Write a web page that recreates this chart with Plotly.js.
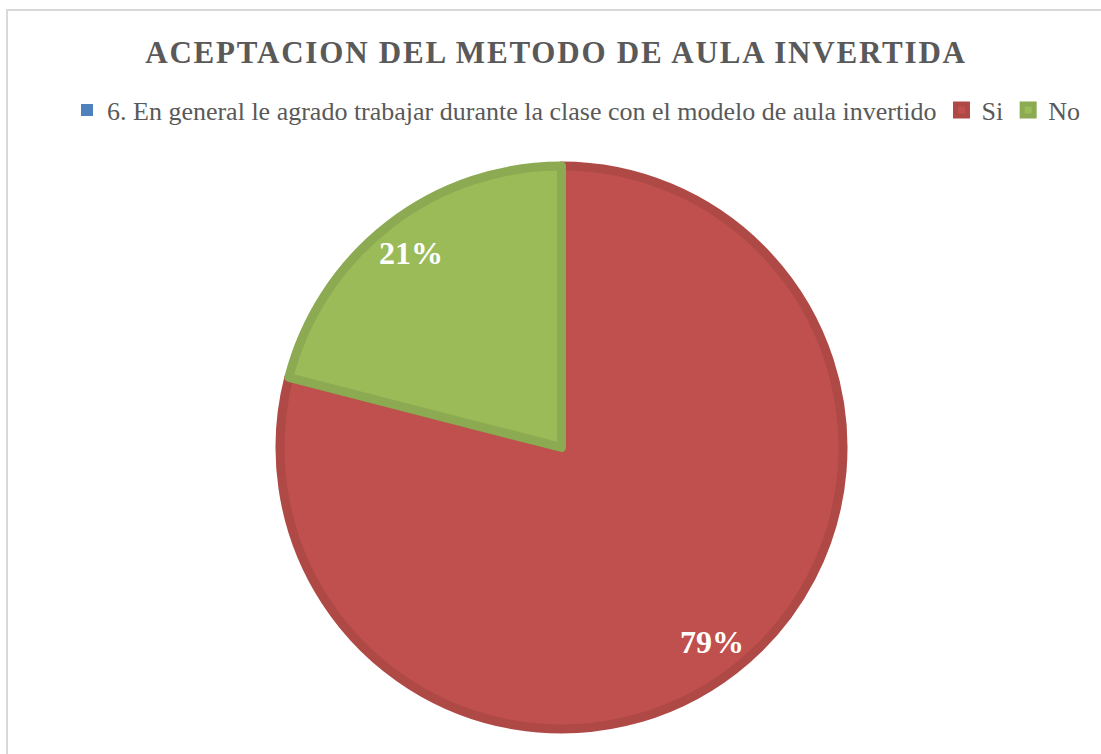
<!DOCTYPE html>
<html>
<head>
<meta charset="utf-8">
<script src="https://cdn.plot.ly/plotly-3.0.1.min.js"></script>
<style>
  html, body { margin: 0; padding: 0; background: #fff; }
  #chart { width: 1101px; height: 754px; }
  .gtitle { letter-spacing: 1.8px; }
</style>
</head>
<body>
<div id="chart"></div>
<script>
// ---- data ----
const categories = [
  "6. En general le agrado trabajar durante la clase con el modelo de aula invertido",
  "Si",
  "No"
];
const values = [0, 79, 21];
const fillColors = ["#4F81BD", "#C0504D", "#9BBB59"];
const borderColors = ["#4F81BD", "#AF4946", "#8CAA51"];
const titleText = "ACEPTACION DEL METODO DE AULA INVERTIDA";

// ---- geometry (page pixels) ----
const W = 1101, H = 754;
const cx = 561.5, cy = 447.5;    // pie centre
const outerR = 286;              // outer edge incl. border
const borderW = 9;
const r = outerR - borderW / 2;  // path radius
const SERIF = "Liberation Serif";
const legendFont = { family: SERIF, size: 26, color: "#595959" };

const domX = [(cx - r) / W, (cx + r) / W];
const domY = [(H - cy - r) / H, (H - cy + r) / H];

// labels placed from the data: midpoint angle of each slice (clockwise from top)
const total = values.reduce((a, b) => a + b, 0);
const annotations = [];
let cum = 0;
values.forEach((v, i) => {
  const a0 = cum / total * 2 * Math.PI;
  cum += v;
  if (v <= 0) return;
  const a1 = cum / total * 2 * Math.PI;
  const mid = (a0 + a1) / 2;
  const rr = 0.86 * outerR;
  const px = cx + rr * Math.sin(mid);
  const py = cy - rr * Math.cos(mid);
  annotations.push({
    x: px / W, y: 1 - py / H, xref: "paper", yref: "paper",
    xanchor: "center", yanchor: "middle", showarrow: false,
    text: "<b>" + Math.round(v / total * 100) + "%</b>",
    font: { family: SERIF, size: 32, color: "#FFFFFF" }
  });
});

const trace = {
  type: "pie",
  labels: categories,
  values: values,
  sort: false,
  direction: "clockwise",
  rotation: 0,
  textinfo: "none",
  hoverinfo: "label+percent",
  domain: { x: domX, y: domY },
  marker: {
    colors: fillColors,
    line: { color: borderColors, width: values.map(v => v > 0 ? borderW : 0) }
  }
};

const layout = {
  width: W, height: H,
  margin: { l: 0, r: 0, t: 0, b: 0 },
  paper_bgcolor: "#FFFFFF",
  font: legendFont,
  showlegend: true,
  title: {
    text: "<b>" + titleText + "</b>",
    x: 556 / W, xanchor: "center",
    y: 1 - 52 / H, yanchor: "middle",
    font: { family: SERIF, size: 31, color: "#595959" }
  },
  legend: {
    orientation: "h",
    x: 576 / W, xanchor: "center",
    y: 1 - 110 / H, yanchor: "middle",
    font: legendFont,
    itemwidth: 30,
    traceorder: "normal"
  },
  shapes: [{
    type: "rect", xref: "paper", yref: "paper",
    x0: 7 / W, x1: 1.02, y0: -0.02, y1: 1 - 10 / H,
    line: { color: "#D9D9D9", width: 2 }
  }],
  annotations: annotations
};

Plotly.newPlot("chart", [trace], layout, { displayModeBar: false, staticPlot: true });
</script>
</body>
</html>
